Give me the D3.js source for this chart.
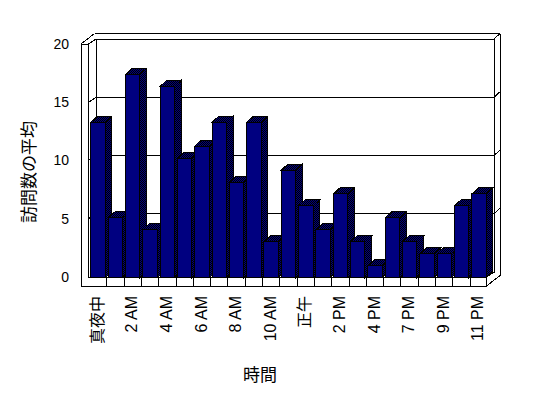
<!DOCTYPE html>
<html><head><meta charset="utf-8">
<script src="https://cdn.jsdelivr.net/npm/d3@7"></script>
<style>html,body{margin:0;padding:0;background:#fff;overflow:hidden}</style>
</head><body><svg id="c" width="548" height="398"></svg>
<script>
const categories = ["真夜中","1 AM","2 AM","3 AM","4 AM","5 AM","6 AM","7 AM","8 AM","9 AM","10 AM","11 AM","正午","1 PM","2 PM","3 PM","4 PM","5 PM","7 PM","8 PM","9 PM","10 PM","11 PM"];
const values = [13,5,17,4,16,10,11,13,8,13,3,9,6,4,7,3,1,5,3,2,2,6,7];
const yTickValues = [0,5,10,15,20];
const gridValues = [5,10,15];
const shownLabels = categories.filter((d,i)=>i%2===0);
const yTitle = "訪問数の平均";
const xTitle = "時間";

const svg = d3.select("#c");
const font = "'Liberation Sans', Arial, 'Noto Sans CJK JP', sans-serif";

// wall geometry
const xOuter = 81, xInner = 88.5, xRightFront = 486.5, floorBottom = 286;
const D = [7.5, -5], T = [6, -5.5];
const yFront = d3.scaleLinear().domain([0,20]).range([277,44]);
const yBack = d3.scaleLinear().domain([0,20]).range([272,39]);
const yBar = d3.scaleLinear().domain([0,20]).range([277.7,38.5]);
const x = d3.scaleBand().domain(categories).range([xInner+1, xRightFront+1]).paddingInner(0.168).paddingOuter(0.084);
const bw = x.bandwidth();
const bdx = 6.6, bdy = -6;

const defs = svg.append("defs");
const pat = defs.append("pattern").attr("id","dither").attr("width",2).attr("height",2).attr("patternUnits","userSpaceOnUse");
pat.append("rect").attr("width",2).attr("height",2).attr("fill","#000080");
pat.append("rect").attr("width",1).attr("height",1).attr("fill","#000");
pat.append("rect").attr("x",1).attr("y",1).attr("width",1).attr("height",1).attr("fill","#000");

const g = svg.append("g").attr("shape-rendering","crispEdges");
const line = (x1,y1,x2,y2) => g.append("line").attr("x1",x1).attr("y1",y1).attr("x2",x2).attr("y2",y2).attr("stroke","#000").attr("stroke-width",1);

const bx0 = xInner + D[0], bx1 = xRightFront + D[0];
const topIn = yBack(20), topOut = yBack(20) + T[1];
// back wall inner face
g.append("rect").attr("x",bx0).attr("y",topIn).attr("width",bx1-bx0).attr("height",yBack(0)-topIn).attr("fill","#fff").attr("stroke","#000");
// back wall top & right thickness
line(xOuter + D[0] + T[0], topOut, bx1 + T[0], topOut);
line(bx1, topIn, bx1 + T[0], topOut);
line(bx1 + T[0], topOut, bx1 + T[0], yFront(0) + D[1] + T[1] + (floorBottom - yFront(0)));
// left wall top
line(xOuter, yFront(20), xOuter + D[0] + T[0], topOut);
line(xInner, yFront(20), bx0, topIn);
// gridlines
gridValues.forEach(v => {
  line(bx0, yBack(v), bx1, yBack(v));
  line(xInner, yFront(v), bx0, yBack(v));
  line(xOuter, yFront(v), xInner, yFront(v));
  line(bx1, yBack(v), bx1 + T[0], yBack(v) + T[1]);
});
// left wall and floor front faces
g.append("path").attr("d", d3.line()([[xInner,yFront(20)],[xInner,yFront(0)],[xRightFront,yFront(0)],[xRightFront,floorBottom],[xOuter,floorBottom],[xOuter,yFront(20)]]) + "Z")
  .attr("fill","#fff").attr("stroke","#000");
// floor right end
line(xRightFront, yFront(0), bx1, yBack(0));
line(xRightFront, floorBottom, bx1 + T[0], floorBottom + D[1] + T[1]);
// floor dividers
categories.slice(1).forEach(c => {
  const bx = x(c) - x.step()*x.paddingInner()/2;
  line(bx, yFront(0), bx, floorBottom);
});

// bars
const bars = g.append("g");
categories.forEach((c,i) => {
  const x0 = x(c), x1 = x0 + bw, yt = yBar(values[i]), yb = yBar(0);
  const bg = bars.append("g");
  bg.append("path").attr("d", d3.line()([[x1,yt],[x1+bdx,yt+bdy],[x1+bdx,yb+bdy],[x1,yb]])+"Z").attr("fill","url(#dither)").attr("stroke","#000");
  bg.append("path").attr("d", d3.line()([[x0,yt],[x0+bdx,yt+bdy],[x1+bdx,yt+bdy],[x1,yt]])+"Z").attr("fill","url(#dither)").attr("stroke","#000");
  bg.append("rect").attr("x",x0).attr("y",yt).attr("width",bw).attr("height",yb-yt).attr("fill","#000080").attr("stroke","#000");
});

// y tick labels
svg.append("g").selectAll("text").data(yTickValues).join("text")
  .attr("x",69).attr("y",d=>yFront(d)).attr("dy","0.35em").attr("text-anchor","end")
  .attr("font-family",font).attr("font-size",14).text(d=>d);
// x tick labels
svg.append("g").selectAll("text").data(shownLabels).join("text")
  .attr("transform",d=>`translate(${x(d)+bw/2-1},296) rotate(-90)`)
  .attr("dy","0.35em").attr("text-anchor","end")
  .attr("font-family",font).attr("font-size",16).text(d=>d);
// titles
svg.append("text").attr("transform","translate(29,172) rotate(-90)").attr("dy","0.35em").attr("text-anchor","middle")
  .attr("font-family",font).attr("font-size",17).text(yTitle);
svg.append("text").attr("x",260).attr("y",375).attr("dy","0.35em").attr("text-anchor","middle")
  .attr("font-family",font).attr("font-size",17).text(xTitle);
</script></body></html>
